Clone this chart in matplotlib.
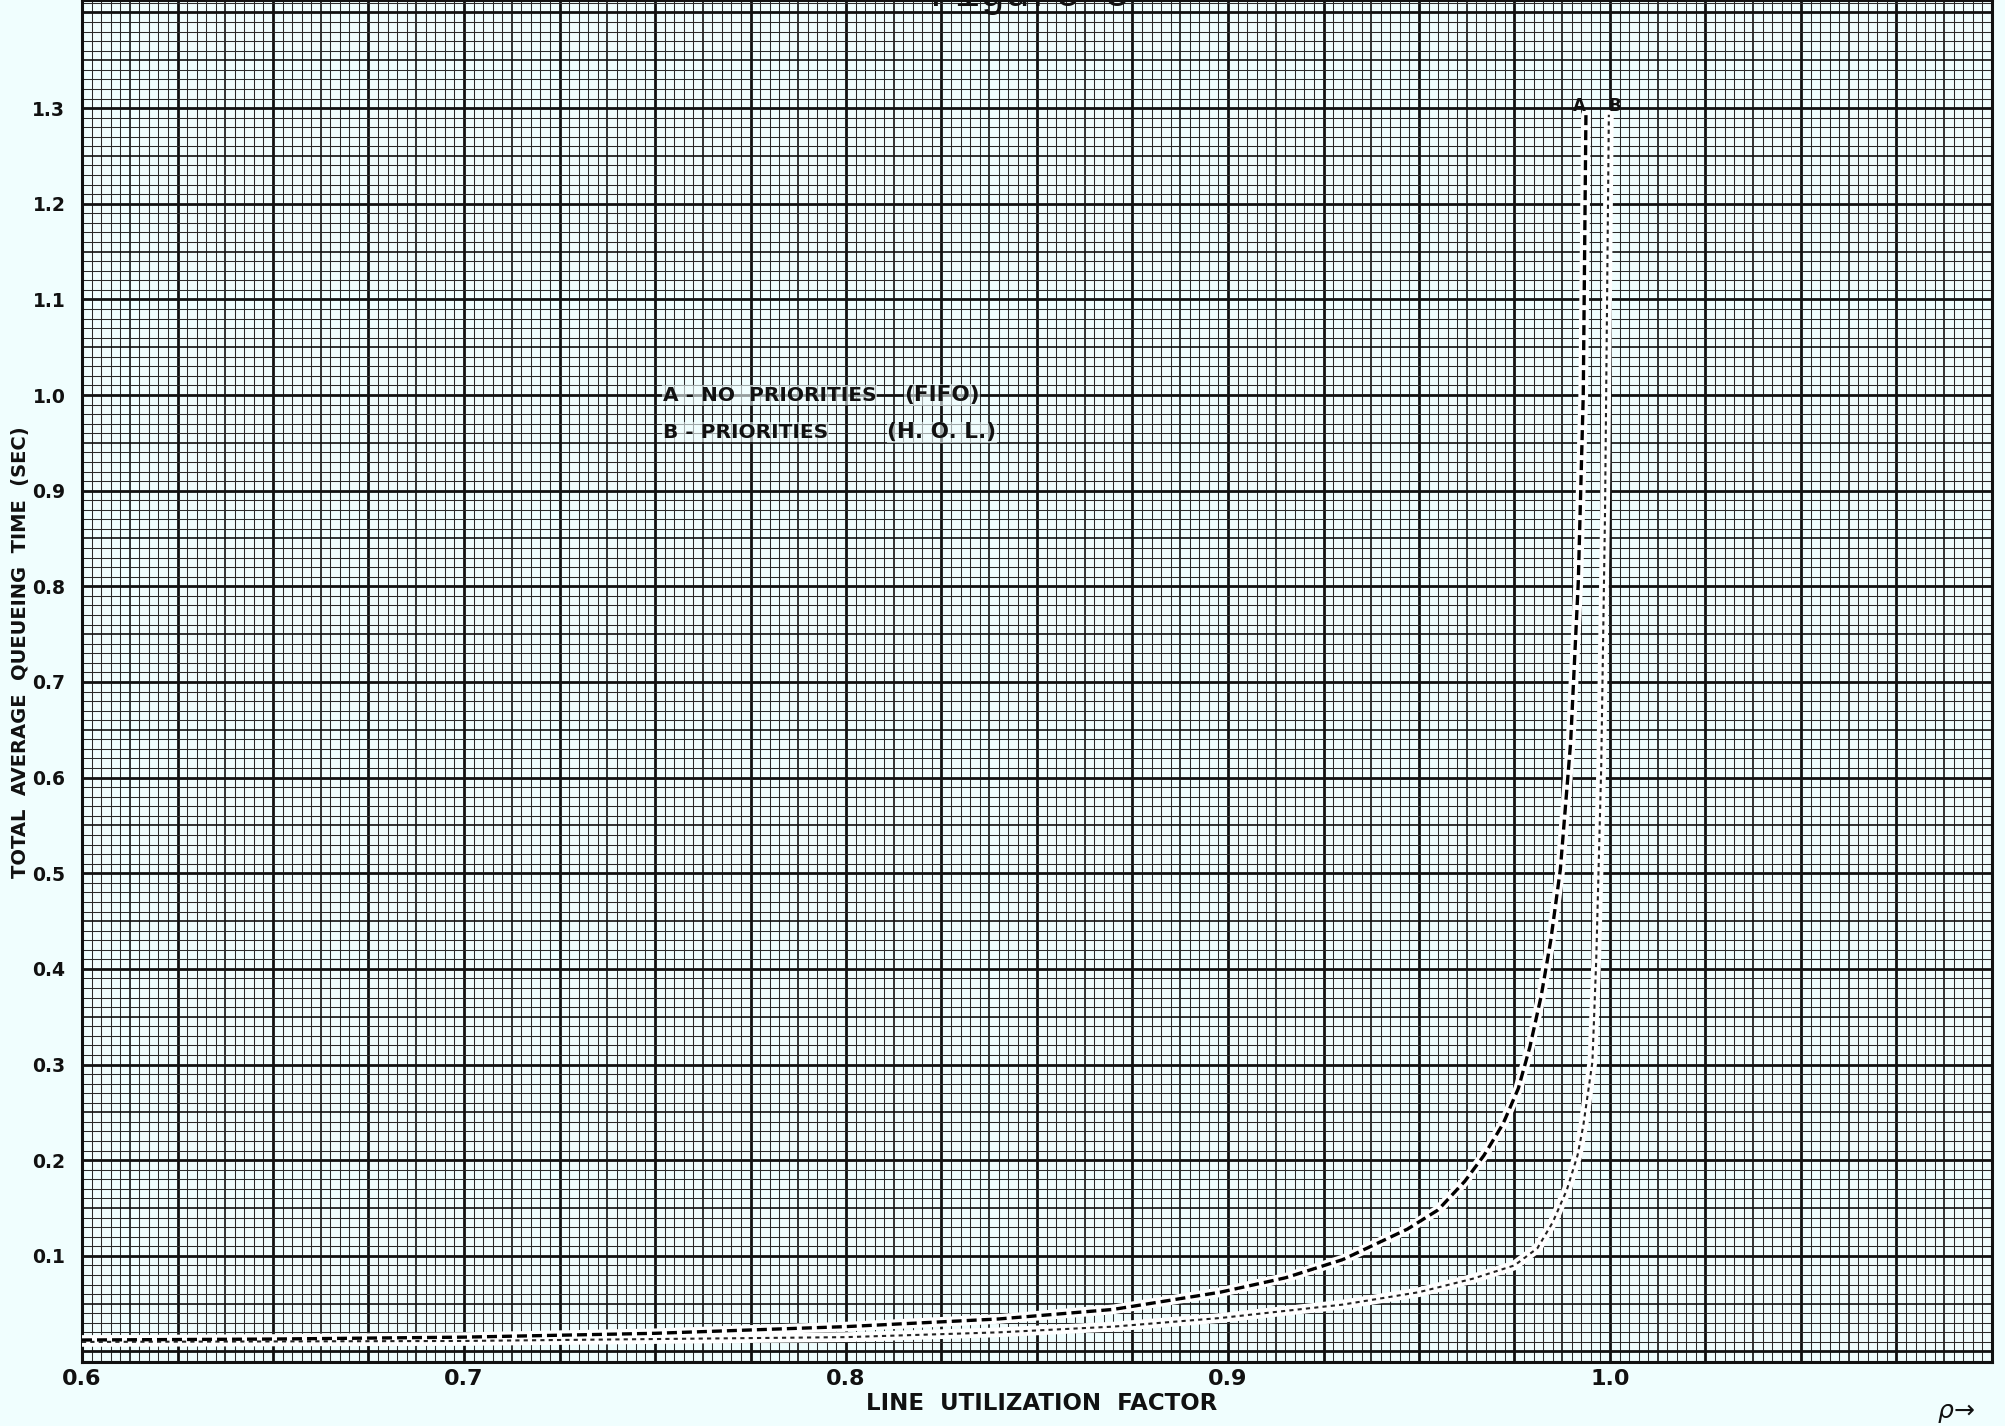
import numpy as np
import matplotlib.pyplot as plt

# valores (factor de utilizacion rho, tiempo en seg)
rho_a = [0.600, 0.650, 0.700, 0.750, 0.800, 0.840, 0.870, 0.898, 0.915, 0.930,
         0.947, 0.955, 0.962, 0.967, 0.972, 0.976, 0.979, 0.982, 0.9845, 0.987,
         0.9897, 0.9917, 0.993, 0.9937]
t_a = [0.012, 0.013, 0.015, 0.019, 0.026, 0.034, 0.044, 0.062, 0.077, 0.096,
       0.128, 0.148, 0.178, 0.205, 0.238, 0.275, 0.318, 0.372, 0.430, 0.504,
       0.637, 0.805, 1.000, 1.293]

rho_b = [0.600, 0.700, 0.750, 0.800, 0.840, 0.870, 0.898, 0.930, 0.950, 0.964,
         0.975, 0.981, 0.985, 0.9887, 0.9915, 0.993, 0.9954, 0.9964, 0.9977,
         0.9987, 0.9997]
t_b = [0.010, 0.011, 0.013, 0.015, 0.020, 0.026, 0.035, 0.049, 0.062, 0.076,
       0.090, 0.108, 0.135, 0.169, 0.205, 0.236, 0.303, 0.410, 0.611,
       0.878, 1.293]

x_ticks = [0.6, 0.7, 0.8, 0.9, 1.0]
x_tick_labels = ['0.6', '0.7', '0.8', '0.9', '1.0']
y_ticks = [0.1, 0.2, 0.3, 0.4, 0.5, 0.6, 0.7, 0.8, 0.9, 1.0, 1.1, 1.2, 1.3]
y_tick_labels = ['0.1', '0.2', '0.3', '0.4', '0.5', '0.6', '0.7', '0.8', '0.9',
                 '1.0', '1.1', '1.2', '1.3']

legend_names = ['A - NO  PRIORITIES', 'B - PRIORITIES']
legend_tags = ['(FIFO)', '(H. O. L.)']

PAPER = '#f0fefe'
INK = '#111111'

W, H = 2005, 1426
X0, X1 = 0.6, 1.1
Y0, Y1 = -0.011, 1.413

fig = plt.figure(figsize=(W / 100, H / 100), dpi=100, facecolor=PAPER)
ax = fig.add_axes([82 / W, 64 / H, 1910 / W, 1362 / H])
ax.set_facecolor(PAPER)
ax.set_xlim(X0, X1)
ax.set_ylim(Y0, Y1)

# papel milimetrado: lineas gruesas cada 0.025 (x) y 0.1 (y)
idx = np.arange(0, 201)
xs = idx * 0.0025 + X0
ax.vlines(xs[idx % 5 != 0], Y0, Y1, colors='#2a2a2a', lw=0.75, zorder=1)
ax.vlines(xs[(idx % 5 == 0) & (idx % 10 != 0)], Y0, Y1, colors=INK, lw=1.2, zorder=1)
ax.vlines(xs[idx % 10 == 0], Y0, Y1, colors=INK, lw=2.0, zorder=1)

ks = np.arange(-1, 142)
ys = ks * 0.01
ax.hlines(ys[ks % 5 != 0], X0, X1, colors='#2a2a2a', lw=0.75, zorder=1)
ax.hlines(ys[(ks % 5 == 0) & (ks % 10 != 0)], X0, X1, colors=INK, lw=1.2, zorder=1)
ax.hlines(ys[ks % 10 == 0], X0, X1, colors=INK, lw=2.0, zorder=1)

# curvas: banda blanca con trazo oscuro encima
ax.plot(rho_a, t_a, color='white', lw=7, solid_capstyle='round', zorder=3)
ax.plot(rho_a, t_a, color='#000000', lw=2.4, ls=(0, (3, 1.5)), zorder=4)
ax.plot(rho_b, t_b, color='white', lw=7, solid_capstyle='round', zorder=3)
ax.plot(rho_b, t_b, color='#222222', lw=1.5, ls=(0, (2, 2)), zorder=4)

ax.text(rho_a[-1], t_a[-1], 'A', fontsize=12, fontweight='bold', ha='right',
        va='bottom', color=INK, zorder=5)
ax.text(rho_b[-1], t_b[-1], 'B', fontsize=12, fontweight='bold', ha='left',
        va='bottom', color=INK, zorder=5)

# leyenda escrita sobre el papel
for i in range(2):
    yy = 1.0 - i * 0.039
    ax.text(0.6 + (663 - 82) / 3820, yy, legend_names[i], fontsize=14.5,
            fontweight='bold', ha='left', va='center', color=INK, zorder=5,
            bbox=dict(facecolor=PAPER, edgecolor='none', pad=0.5, alpha=0.6))
    ax.text(0.6 + (942 - 82) / 3820, yy, legend_tags[i], fontsize=15.5,
            fontweight='bold', ha='center', va='center', color=INK, zorder=5,
            bbox=dict(facecolor=PAPER, edgecolor='none', pad=0.5, alpha=0.6))

ax.set_xticks(x_ticks, x_tick_labels)
ax.set_yticks(y_ticks, y_tick_labels)
ax.tick_params(length=0, colors=INK)
ax.tick_params(axis='x', pad=5, labelsize=16)
ax.tick_params(axis='y', pad=12, labelsize=13.5)
for lab in ax.get_xticklabels() + ax.get_yticklabels():
    lab.set_fontweight('bold')
for sp in ax.spines.values():
    sp.set_linewidth(2.2)
    sp.set_color(INK)

fig.text(21 / W, 1 - 652 / H, 'TOTAL  AVERAGE  QUEUEING  TIME  (SEC)',
         fontsize=14, fontweight='bold', rotation=90, ha='center', va='center',
         color=INK)
fig.text(1042 / W, 1 - 1403 / H, 'LINE  UTILIZATION  FACTOR', fontsize=16.5,
         fontweight='bold', ha='center', va='center', color=INK)
fig.text(1956 / W, 1 - 1413 / H, r'$\rho\!\rightarrow$', fontsize=18,
         ha='center', va='center', color=INK)
fig.text(1030 / W, 1 - 6 / H, 'Figure 5', fontsize=30, family='Liberation Mono',
         ha='center', va='baseline', color=INK)

fig.savefig('out.png', dpi=100, facecolor=PAPER)
